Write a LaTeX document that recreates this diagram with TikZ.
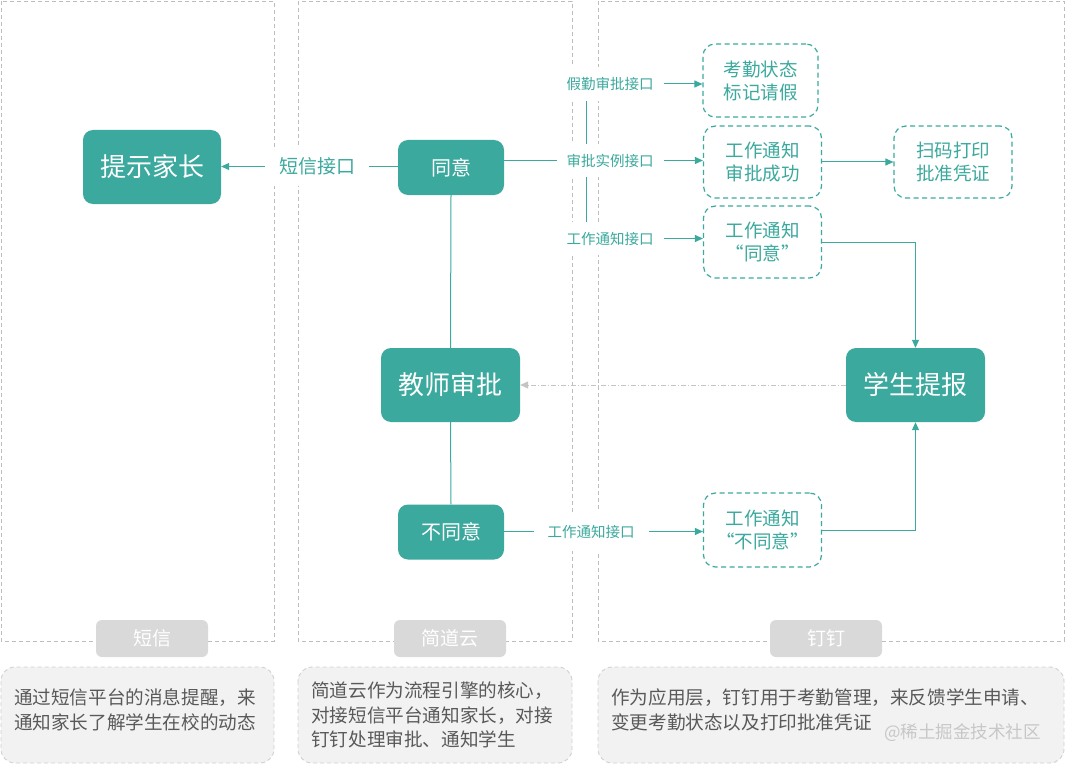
\documentclass[tikz,border=0pt]{standalone}
\usepackage{fontspec}
\setmainfont{Noto Sans CJK SC}
\usetikzlibrary{arrows.meta,calc}
\definecolor{tealc}{HTML}{3BA99D}
\definecolor{lanegray}{HTML}{BDBDBD}
\definecolor{lblgray}{HTML}{D9D9D9}
\definecolor{descfill}{HTML}{F2F2F2}
\definecolor{descline}{HTML}{D0D0D0}
\definecolor{desctext}{HTML}{595959}
\definecolor{dotgray}{HTML}{C4C4C4}
\pgfdeclarelayer{bg}
\pgfsetlayers{bg,main}
\tikzset{
  lane/.style={draw=lanegray, line width=0.9pt, dash pattern=on 4pt off 3pt},
  solidbox/.style={fill=tealc, rounded corners=10pt, text=white, inner sep=0pt, align=center},
  dashbox/.style={draw=tealc, line width=1.2pt, dash pattern=on 5pt off 3.5pt, rounded corners=12pt, text=tealc, inner sep=0pt, align=center, minimum width=118pt, minimum height=72pt, font=\fontsize{18.5}{23}\selectfont},
  iflbl/.style={fill=white, text=tealc, inner xsep=10pt, inner ysep=10pt, font=\fontsize{14.5}{17}\selectfont},
  conn/.style={draw=tealc, line width=1pt},
  arr/.style={conn, -{Triangle[length=8pt,width=7pt]}},
  lanelbl/.style={fill=lblgray, text=white, rounded corners=6pt, minimum width=112pt, minimum height=37pt, inner sep=0pt, font=\fontsize{19}{22}\selectfont},
  descbox/.style={fill=descfill, draw=descline, line width=0.9pt, dash pattern=on 4pt off 3pt, rounded corners=14pt},
  desctxt/.style={anchor=west, align=left, text=desctext, inner sep=0pt, font=\fontsize{18.6}{24.5}\selectfont},
}
\begin{document}
\begin{tikzpicture}[x=1pt,y=-1pt]
\path[use as bounding box] (0,0) rectangle (1066,765);

% lanes
\begin{pgfonlayer}{bg}
\fill[white] (0,0) rectangle (1066,765);
\draw[lane] (1,1) rectangle (274,641);
\draw[lane] (298,1) rectangle (572,641);
\draw[lane] (598,1) rectangle (1064,641);
\end{pgfonlayer}

% lane labels
\node[lanelbl] (ln1) at (152,638.5) {短信};
\node[lanelbl] (ln2) at (450,638.5) {简道云};
\node[lanelbl] (ln3) at (826,638.5) {钉钉};

% description boxes
\draw[descbox] (1,667) rectangle (274,763);
\draw[descbox] (298,667) rectangle (572,763);
\draw[descbox] (598,667) rectangle (1064,763);
\node[desctxt] (d1) at (14,710) {通过短信平台的消息提醒，来\\通知家长了解学生在校的动态};
\node[desctxt] (d2) at (311,715) {简道云作为流程引擎的核心，\\对接短信平台通知家长，对接\\钉钉处理审批、通知学生};
\node[desctxt] (d3) at (611,710) {作为应用层，钉钉用于考勤管理，来反馈学生申请、\\变更考勤状态以及打印批准凭证};
\node[anchor=west, text=lblgray!80!gray, inner sep=0pt, font=\fontsize{17.5}{20}\selectfont] (wm) at (884,733) {@稀土掘金技术社区};

% main nodes
\node[solidbox, minimum width=138pt, minimum height=74pt, font=\fontsize{26}{30}\selectfont] (parent) at (152,167) {提示家长};
\node[solidbox, minimum width=106pt, minimum height=55pt, font=\fontsize{20}{24}\selectfont] (agree) at (451,167.5) {同意};
\node[solidbox, minimum width=139pt, minimum height=74pt, font=\fontsize{26}{30}\selectfont] (teacher) at (450.5,385) {教师审批};
\node[solidbox, minimum width=106pt, minimum height=55pt, font=\fontsize{20}{24}\selectfont] (disagree) at (451,532) {不同意};
\node[solidbox, minimum width=139pt, minimum height=74pt, font=\fontsize{26}{30}\selectfont] (student) at (915.5,385) {学生提报};

% dashed boxes
\node[dashbox, minimum width=115pt, minimum height=73pt] (b1) at (760.5,80.5) {考勤状态\\标记请假};
\node[dashbox] (b2) at (762.5,162) {工作通知\\审批成功};
\node[dashbox] (b3) at (762.5,242) {工作通知\\“同意”};
\node[dashbox] (b4) at (953,162) {扫码打印\\批准凭证};
\node[dashbox, minimum height=74pt] (b5) at (762.5,530) {工作通知\\“不同意”};

% interface labels
\node[iflbl, font=\fontsize{19}{22}\selectfont, inner xsep=14pt, inner ysep=11pt] (l0) at (317,166.5) {短信接口};
\node[iflbl] (l1) at (610,84) {假勤审批接口};
\node[iflbl] (l2) at (610,160.5) {审批实例接口};
\node[iflbl] (l3) at (610,238.5) {工作通知接口};
\node[iflbl, inner xsep=14pt, inner ysep=13pt] (l4) at (591,531.5) {工作通知接口};

% connectors
\begin{pgfonlayer}{bg}
\draw[arr] (agree.west |- l0) -- (parent.east |- l0);
\draw[conn] (agree.east |- l2) -- (l2.center);
\draw[conn] ([xshift=-24pt]l1.south) -- ([xshift=-24pt]l3.north);
\draw[conn] (agree.south) -- (teacher.north);
\draw[conn] (teacher.south) -- (disagree.north);
\draw[conn] (disagree.east |- l4) -- (l4.center);
\end{pgfonlayer}
\draw[arr] (l1.east) -- (l1.east -| b1.west);
\draw[arr] (l2.east) -- (l2.east -| b2.west);
\draw[arr] (l3.east) -- (l3.east -| b3.west);
\draw[arr] (l4.east) -- (l4.east -| b5.west);
\draw[arr] (b2.east) -- (b4.west);
\draw[arr] (b3.east) -| (student.north);
\draw[arr] (b5.east) -| (student.south);
\draw[draw=dotgray, line width=1pt, dash pattern=on 5pt off 2pt on 1pt off 2pt, -{Triangle[length=8pt,width=7pt]}] (student.west) -- (teacher.east);
\end{tikzpicture}
\end{document}
